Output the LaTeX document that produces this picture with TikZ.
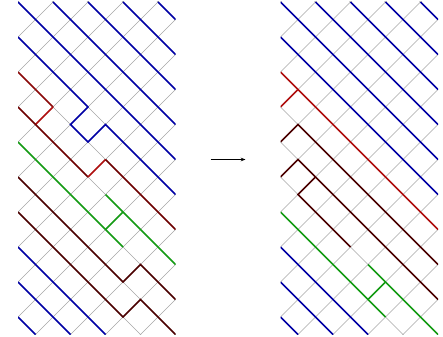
\documentclass[tikz,border=0pt]{standalone}
\usepackage{xcolor}
\definecolor{latblue}{RGB}{0,0,165}
\definecolor{latgreen}{RGB}{20,155,20}
\definecolor{latred}{RGB}{175,15,15}
\definecolor{latmidred}{RGB}{140,10,10}
\definecolor{latdarkred}{RGB}{110,0,0}
\definecolor{latbrown}{RGB}{75,0,0}
\usetikzlibrary{arrows.meta}

\begin{document}
\begin{tikzpicture}[x=0.5cm, y=0.5cm,
  lattice/.style={draw=gray!70, line width=0.35pt},
  bluepath/.style={draw=latblue, line width=1.2pt},
  greenpath/.style={draw=latgreen, line width=1.2pt},
  redpath/.style={draw=latred, line width=1.2pt},
  midredpath/.style={draw=latmidred, line width=1.2pt},
  darkredpath/.style={draw=latdarkred, line width=1.2pt},
  brownpath/.style={draw=latbrown, line width=1.2pt}]
\useasboundingbox (-1.029,-0.086) rectangle (24.286,19.114);

% left lattice
\begin{scope}
\clip (0,0) rectangle (9,19);
\foreach \c in {1,3,...,27} \draw[lattice] (\c-20,20) -- (\c+1,-1);
\foreach \d in {-9,-7,...,19} \draw[lattice] (-1,\d-1) -- (20,\d+20);
\foreach \k in {0,2,4,6,8} \draw[bluepath] (\k,19) -- (9,10+\k);
\draw[bluepath] (0,17) -- (4,13) -- (3,12) -- (4,11) -- (5,12) -- (9,8);
\draw[bluepath] (0,5) -- (5,0);
\draw[bluepath] (0,3) -- (3,0);
\draw[bluepath] (0,1) -- (1,0);
\draw[midredpath] (0,15) -- (2,13);
\draw[redpath] (2,13) -- (1,12);
\draw[darkredpath] (0,13) -- (4,9);
\draw[redpath] (4,9) -- (5,10);
\draw[darkredpath] (5,10) -- (9,6);
\draw[greenpath] (0,11) -- (6,5);
\draw[greenpath] (5,8) -- (9,4);
\draw[greenpath] (5,6) -- (6,7);
\draw[brownpath] (0,9) -- (6,3) -- (7,4) -- (9,2);
\draw[brownpath] (0,7) -- (6,1) -- (7,2) -- (9,0);
\end{scope}

% right lattice
\begin{scope}[shift={(15,0)}]
\clip (0,0) rectangle (9,19);
\foreach \c in {1,3,...,27} \draw[lattice] (\c-20,20) -- (\c+1,-1);
\foreach \d in {-9,-7,...,19} \draw[lattice] (-1,\d-1) -- (20,\d+20);
\foreach \k in {0,2,4,6,8} \draw[bluepath] (\k,19) -- (9,10+\k);
\draw[bluepath] (0,17) -- (9,8);
\draw[bluepath] (0,5) -- (5,0);
\draw[bluepath] (0,3) -- (3,0);
\draw[bluepath] (0,1) -- (1,0);
\draw[redpath] (0,15) -- (9,6);
\draw[redpath] (0,13) -- (1,14);
\draw[greenpath] (0,7) -- (6,1);
\draw[greenpath] (5,4) -- (9,0);
\draw[greenpath] (5,2) -- (6,3);
\draw[brownpath] (0,11) -- (1,12) -- (9,4);
\draw[brownpath] (0,9) -- (1,10) -- (9,2);
\draw[brownpath] (2,9) -- (1,8) -- (4,5);
\end{scope}

\coordinate (maptail) at (11,10);
\coordinate (maphead) at (13,10);
\draw[line width=0.6pt, -{Stealth[length=4pt]}] (maptail) -- (maphead);
\end{tikzpicture}
\end{document}
